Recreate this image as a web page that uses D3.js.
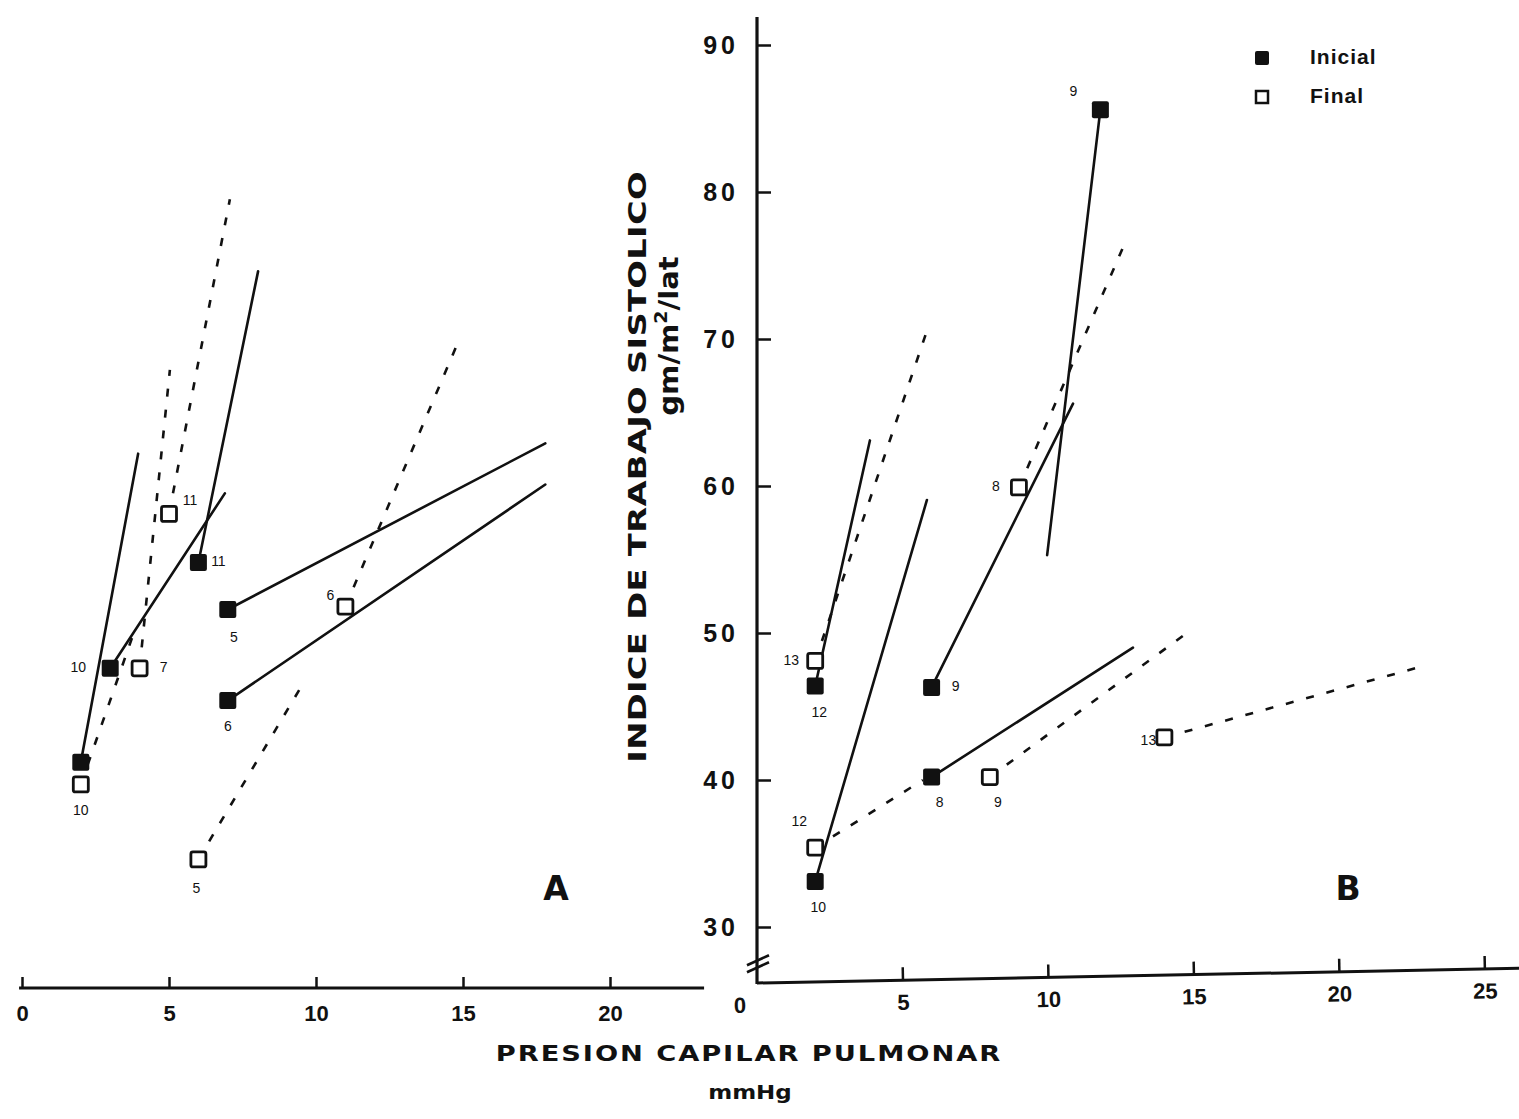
<!DOCTYPE html>
<html>
<head>
<meta charset="utf-8">
<script src="https://cdn.jsdelivr.net/npm/d3@7"></script>
<style>
  html, body { margin: 0; padding: 0; background: #fff; }
  svg { display: block; }
  text { font-family: "Liberation Sans", Arial, sans-serif; fill: #111; }
  .title { font-family: "DejaVu Sans", sans-serif; font-weight: bold; }
</style>
</head>
<body>
<svg id="chart" width="1519" height="1119"></svg>
<script>
// ---- Panel A (presión capilar pulmonar vs. índice de trabajo sistólico) ----
const aInicialPts    = [[2, 41.2], [3, 47.6], [6, 54.8], [7, 51.6], [7, 45.4]];
const aInicialLabels = ["", "10", "11", "5", "6"];
const aFinalPts      = [[2, 39.7], [4, 47.6], [5, 58.1], [11, 51.8], [6, 34.6]];
const aFinalLabels   = ["10", "7", "11", "6", "5"];
// segments [x1, y1, x2, y2] in data units
const aSolidLines  = [[2, 41.2, 3.95, 62.2], [3, 47.6, 6.9, 59.5], [6, 54.8, 8.03, 74.6],
                      [7, 51.6, 17.8, 62.9], [7, 45.4, 17.8, 60.1]];
const aDashedLines = [[2, 39.7, 3.8, 50.0], [5, 58.1, 7.07, 79.5], [4, 47.6, 5.03, 67.9],
                      [6, 34.6, 9.63, 46.8], [11, 51.8, 14.9, 70.1]];

// ---- Panel B ----
const bInicialPts    = [[2, 46.4], [2, 33.1], [6, 46.3], [6, 40.2], [11.8, 85.6]];
const bInicialLabels = ["12", "10", "9", "8", "9"];
const bFinalPts      = [[2, 48.1], [2, 35.4], [8, 40.2], [9, 59.9], [14, 42.9]];
const bFinalLabels   = ["13", "12", "9", "8", "13"];
const bSolidLines  = [[2, 46.4, 3.88, 63.1], [2, 33.1, 5.84, 59.05], [6, 40.2, 12.92, 49.0],
                      [6, 46.3, 10.86, 65.6], [11.8, 85.6, 9.97, 55.3]];
const bDashedLines = [[2, 48.1, 5.88, 70.8], [2, 35.4, 5.7, 40.0], [8, 40.2, 14.98, 50.3],
                      [14, 42.9, 22.8, 47.7], [9, 59.9, 12.68, 76.7]];

// ---- Axes ----
const yTicks  = [30, 40, 50, 60, 70, 80, 90];
const aXTicks = [0, 5, 10, 15, 20];
const bXTicks = [0, 5, 10, 15, 20, 25];
const legendItems = ["Inicial", "Final"];

// pixel offsets of the small case numbers next to each marker
const aInicialOff = [[0, 0], [-32, 0], [20, 0], [6, 29], [0, 27]];
const aFinalOff   = [[0, 27], [24, 0], [21, -13], [-15, -10], [-2, 30]];
const bInicialOff = [[4, 27], [3, 27], [24, 0], [8, 26], [-27, -17]];
const bFinalOff   = [[-24, 0], [-16, -25], [8, 26], [-23, 0], [-16, 4]];

const svg = d3.select("#chart");
svg.append("rect").attr("width", 1519).attr("height", 1119).attr("fill", "#fff");

const y  = d3.scaleLinear().domain([30, 90]).range([927, 45]);
const xA = d3.scaleLinear().domain([0, 20]).range([22, 610]);
const xB = d3.scaleLinear().domain([0, 25]).range([757, 1484.5]);

const INK = "#111";

function drawPanel(x, solid, dashed, ini, fin, iniLab, finLab, iniOff, finOff) {
  const g = svg.append("g");
  g.selectAll("line.solid").data(solid).join("line")
    .attr("x1", d => x(d[0])).attr("y1", d => y(d[1]))
    .attr("x2", d => x(d[2])).attr("y2", d => y(d[3]))
    .attr("stroke", INK).attr("stroke-width", 2.6).attr("stroke-linecap", "round");
  g.selectAll("line.dash").data(dashed).join("line")
    .attr("x1", d => x(d[0])).attr("y1", d => y(d[1]))
    .attr("x2", d => x(d[2])).attr("y2", d => y(d[3]))
    .attr("stroke", INK).attr("stroke-width", 2.6)
    .attr("stroke-dasharray", "8,13");

  const s = 17, so = 15;
  g.selectAll("rect.ini").data(ini).join("rect")
    .attr("x", d => x(d[0]) - s / 2).attr("y", d => y(d[1]) - s / 2)
    .attr("width", s).attr("height", s).attr("rx", 2)
    .attr("fill", INK);
  g.selectAll("rect.fin").data(fin).join("rect")
    .attr("x", d => x(d[0]) - so / 2).attr("y", d => y(d[1]) - so / 2)
    .attr("width", so).attr("height", so).attr("rx", 2)
    .attr("fill", "#fff").attr("stroke", INK).attr("stroke-width", 2.8);

  const lab = (pts, labels, off) => pts.map((p, i) => ({ p, t: labels[i], o: off[i] }));
  g.selectAll("text.num").data(lab(ini, iniLab, iniOff).concat(lab(fin, finLab, finOff)))
    .join("text")
    .attr("x", d => x(d.p[0]) + d.o[0]).attr("y", d => y(d.p[1]) + d.o[1])
    .attr("text-anchor", "middle").attr("dominant-baseline", "middle")
    .attr("font-size", 14).attr("fill", "#222")
    .text(d => d.t);
}

drawPanel(xA, aSolidLines, aDashedLines, aInicialPts, aFinalPts,
          aInicialLabels, aFinalLabels, aInicialOff, aFinalOff);
drawPanel(xB, bSolidLines, bDashedLines, bInicialPts, bFinalPts,
          bInicialLabels, bFinalLabels, bInicialOff, bFinalOff);

// ---- x axis, panel A ----
const axA = svg.append("g").attr("transform", "translate(0,988)")
  .call(d3.axisBottom(xA).tickValues(aXTicks).tickSize(-11).tickPadding(17));
axA.select(".domain").remove();
axA.append("line").attr("x1", xA(-0.1)).attr("x2", xA(23.2))
  .attr("stroke", INK).attr("stroke-width", 3);
axA.selectAll(".tick line").attr("stroke", INK).attr("stroke-width", 2.5);
axA.selectAll(".tick text").attr("font-family", "DejaVu Sans, sans-serif")
  .attr("font-weight", "bold").attr("font-size", 22).attr("fill", INK);

// ---- x axis, panel B ----
const axB = svg.append("g").attr("transform", "translate(0,983) rotate(-1.1," + xB(0) + ",0)")
  .call(d3.axisBottom(xB).tickValues(bXTicks).tickSize(-13).tickPadding(14));
axB.select(".domain").remove();
axB.append("line").attr("x1", xB(0)).attr("x2", xB(26.2))
  .attr("stroke", INK).attr("stroke-width", 3);
axB.selectAll(".tick line").attr("stroke", INK).attr("stroke-width", 2.5);
axB.selectAll(".tick").filter(d => d === 0).select("line").remove();
axB.selectAll(".tick text").attr("font-family", "DejaVu Sans, sans-serif")
  .attr("font-weight", "bold").attr("font-size", 22).attr("fill", INK);
axB.selectAll(".tick").filter(d => d === 0).select("text").attr("x", -18);

// ---- shared y axis ----
const axY = svg.append("g").attr("transform", "translate(" + xB(0) + ",0)")
  .call(d3.axisLeft(y).tickValues(yTicks).tickSize(-14).tickPadding(18));
axY.select(".domain").remove();
axY.append("line").attr("y1", y(91.9)).attr("y2", 984)
  .attr("stroke", INK).attr("stroke-width", 3.2);
axY.selectAll(".tick line").attr("stroke", INK).attr("stroke-width", 2.5);
axY.selectAll(".tick text").attr("font-family", "DejaVu Sans, sans-serif")
  .attr("font-weight", "bold").attr("font-size", 25).attr("letter-spacing", 4)
  .attr("fill", INK);
// axis break
[0, 7].forEach(o => {
  axY.append("line").attr("x1", -10).attr("y1", y(27.4) + o)
    .attr("x2", 12).attr("y2", y(27.4) + o - 10)
    .attr("stroke", INK).attr("stroke-width", 2.6);
});

// ---- axis titles (wide bold lettering) ----
svg.append("text").attr("class", "title")
  .attr("transform", "translate(646,467) rotate(-90) scale(1.35,1)")
  .attr("text-anchor", "middle").attr("font-size", 25)
  .attr("textLength", 438).attr("lengthAdjust", "spacing")
  .text("INDICE DE TRABAJO SISTOLICO");
const unit = svg.append("text").attr("class", "title")
  .attr("transform", "translate(678,336) rotate(-90) scale(1.12,1)")
  .attr("text-anchor", "middle").attr("font-size", 26);
unit.append("tspan").text("gm/m");
unit.append("tspan").attr("font-size", 17).attr("dy", -11).text("2");
unit.append("tspan").attr("dy", 11).text("/lat");

svg.append("text").attr("class", "title")
  .attr("transform", "translate(748,1061) scale(1.3,1)")
  .attr("text-anchor", "middle").attr("font-size", 21)
  .attr("textLength", 388).attr("lengthAdjust", "spacing")
  .text("PRESION CAPILAR PULMONAR");
svg.append("text").attr("class", "title")
  .attr("transform", "translate(750,1099) scale(1.15,1)")
  .attr("text-anchor", "middle").attr("font-size", 20)
  .text("mmHg");

// ---- panel letters ----
svg.append("text").attr("class", "title").attr("x", 556).attr("y", 900)
  .attr("text-anchor", "middle").attr("font-size", 33).text("A");
svg.append("text").attr("class", "title").attr("x", 1348).attr("y", 900)
  .attr("text-anchor", "middle").attr("font-size", 33).text("B");

// ---- legend ----
const leg = svg.append("g").attr("transform", "translate(1262,58)");
legendItems.forEach((name, i) => {
  const gy = i * 39;
  if (i === 0) {
    leg.append("rect").attr("x", -7).attr("y", gy - 7).attr("width", 14).attr("height", 14)
      .attr("rx", 2).attr("fill", INK);
  } else {
    leg.append("rect").attr("x", -6).attr("y", gy - 6).attr("width", 12).attr("height", 12)
      .attr("fill", "#fff").attr("stroke", INK).attr("stroke-width", 2.5);
  }
  leg.append("text").attr("x", 48).attr("y", gy).attr("dominant-baseline", "middle")
    .attr("font-weight", "bold").attr("font-size", 21).attr("letter-spacing", 1)
    .text(name);
});
</script>
</body>
</html>
